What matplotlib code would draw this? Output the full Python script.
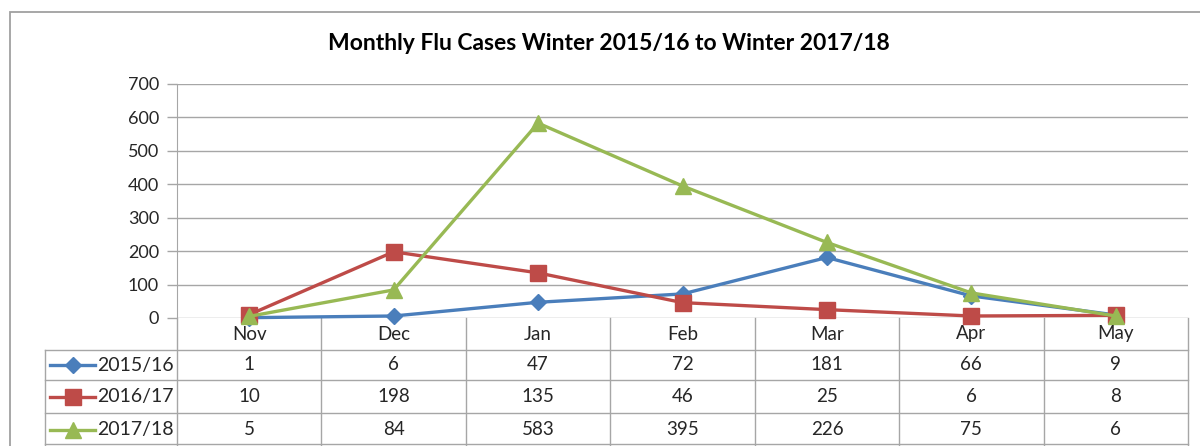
import matplotlib
matplotlib.use("Agg")
import matplotlib.pyplot as plt
from matplotlib.lines import Line2D
from matplotlib.patches import Rectangle

months = ["Nov", "Dec", "Jan", "Feb", "Mar", "Apr", "May"]
series_names = ["2015/16", "2016/17", "2017/18"]
s2015 = [1, 6, 47, 72, 181, 66, 9]
s2016 = [10, 198, 135, 46, 25, 6, 8]
s2017 = [5, 84, 583, 395, 226, 75, 6]
yticks = [0, 100, 200, 300, 400, 500, 600, 700]

colors = ["#4A7EBB", "#BE4B48", "#98B954"]
markers = ["D", "s", "^"]
msizes = [8, 11, 11]
series = [s2015, s2016, s2017]

plt.rcParams['font.family'] = ['Lato', 'DejaVu Sans']
W, H = 1200, 446
fig = plt.figure(figsize=(12, 4.46), dpi=100)
grid_c = "#A6A6A6"
text_c = "#262626"

def fx(px):
    return px / W

def fy(py):
    return 1 - py / H

# outer border
fig.add_artist(Rectangle((fx(10), fy(460)), fx(1210) - fx(10), fy(12) - fy(460),
                         transform=fig.transFigure, fill=False, edgecolor="#A0A0A0", lw=1.3))

x0, x1, ytop, ybot = 177, 1188, 84, 318
ax = fig.add_axes([fx(x0), fy(ybot), fx(x1) - fx(x0), fy(ytop) - fy(ybot)])
ax.set_xlim(-0.5, 6.5)
ax.set_ylim(0, 700)
ax.set_yticks(yticks)
ax.set_yticklabels([str(v) for v in yticks], fontsize=13, color=text_c)
ax.tick_params(axis='y', length=7, color=grid_c, width=1, pad=6)
ax.set_xticks([])
for s in ["top", "right", "bottom"]:
    ax.spines[s].set_visible(False)
ax.spines["left"].set_color(grid_c)
ax.grid(axis='y', color=grid_c, lw=1)
ax.set_axisbelow(True)

xs = list(range(len(months)))
for vals, c, m, ms in zip(series, colors, markers, msizes):
    ax.plot(xs, vals, color=c, lw=2.4, marker=m, markersize=ms,
            markerfacecolor=c, markeredgecolor=c, clip_on=False, zorder=3)

fig.text(fx(609), fy(44), "Monthly Flu Cases Winter 2015/16 to Winter 2017/18",
         ha="center", va="center", fontsize=16.5, fontweight="bold", color="#000000")

# data table (y in axes coords, x in data coords)
ah = ybot - ytop
def ay(py):
    return (ybot - py) / ah

xt = ax.get_xaxis_transform()
row_edges = [318, 350, 380, 413, 446]
colw = (x1 - x0) / 7
left_tbl = -0.5 + (45 - x0) / colw

# horizontal lines
for r in [350, 380, 413, 444]:
    ax.add_line(Line2D([left_tbl, 6.5], [ay(r), ay(r)], transform=xt, color=grid_c,
                       lw=1, clip_on=False))
# vertical lines
ax.add_line(Line2D([left_tbl, left_tbl], [ay(350), ay(446)], transform=xt, color=grid_c, lw=1, clip_on=False))
ax.add_line(Line2D([-0.5, -0.5], [ay(318), ay(446)], transform=xt, color=grid_c, lw=1, clip_on=False))
for k in range(1, 8):
    xb = -0.5 + k
    ax.add_line(Line2D([xb, xb], [ay(318), ay(446)], transform=xt, color=grid_c, lw=1, clip_on=False))

# header
hc = ay((318 + 350) / 2)
for i, mth in enumerate(months):
    ax.text(i, hc, mth, transform=xt, ha="center", va="center", fontsize=13.5, color=text_c)

# rows
for r, (name, vals, c, m, ms) in enumerate(zip(series_names, series, colors, markers, msizes)):
    yc = ay((row_edges[r + 1] + row_edges[r + 2]) / 2)
    for i, v in enumerate(vals):
        ax.text(i, yc, str(v), transform=xt, ha="center", va="center", fontsize=13.5, color=text_c)
    # legend key
    kx0 = -0.5 + (50 - x0) / colw
    kx1 = -0.5 + (95 - x0) / colw
    ax.add_line(Line2D([kx0, kx1], [yc, yc], transform=xt, color=c, lw=2.4, clip_on=False))
    ax.add_line(Line2D([(kx0 + kx1) / 2], [yc], transform=xt, color=c, marker=m,
                       markersize=ms, markerfacecolor=c, markeredgecolor=c,
                       clip_on=False, linestyle="none"))
    tx = -0.5 + (97 - x0) / colw
    ax.text(tx, yc, name, transform=xt, ha="left", va="center", fontsize=14, color=text_c)

fig.savefig("out.png", dpi=100)
